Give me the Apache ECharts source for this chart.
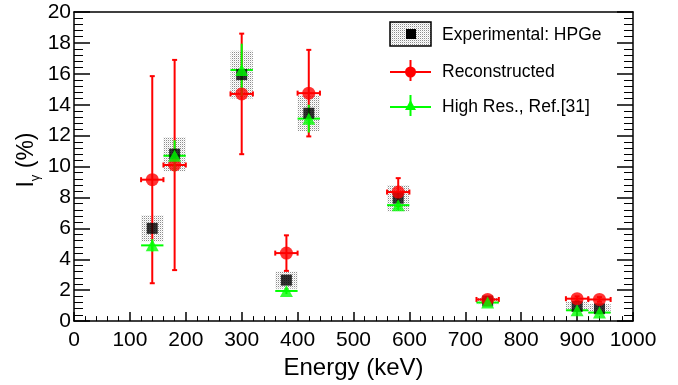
<!DOCTYPE html>
<html>
<head>
<meta charset="utf-8">
<script src="https://cdn.jsdelivr.net/npm/echarts@6/dist/echarts.min.js"></script>
<style>
  html, body { margin: 0; padding: 0; background: #fff; }
  #chart { width: 678px; height: 385px; }
</style>
</head>
<body>
<div id="chart"></div>
<script>
// gamma energies (keV) and their half-width
const energies = [140, 180, 300, 380, 420, 580, 740, 900, 940]
const energyErr = [20, 20, 20, 20, 20, 20, 20, 20, 20]

// Experimental: HPGe
const expValues = [6.0, 10.8, 15.95, 2.65, 13.45, 7.95, 1.3, 0.95, 0.8]
const expErrors = [0.85, 1.1, 1.55, 0.55, 1.15, 0.85, 0.2, 0.3, 0.3]

// Reconstructed
const recoValues = [9.15, 10.1, 14.7, 4.4, 14.75, 8.35, 1.4, 1.45, 1.4]
const recoErrors = [6.7, 6.8, 3.9, 1.15, 2.8, 0.9, 0.15, 0.15, 0.15]

// High Res., Ref.[31]
const hiresValues = [4.9, 10.7, 16.25, 1.95, 13.1, 7.5, 1.2, 0.7, 0.55]
const hiresErrors = [0.4, 1.0, 1.7, 0.2, 0.9, 0.3, 0.1, 0.1, 0.1]

const xTicks = [0, 100, 200, 300, 400, 500, 600, 700, 800, 900, 1000]
const yTicks = [0, 2, 4, 6, 8, 10, 12, 14, 16, 18, 20]

const FONT = "Liberation Sans"

// grey dotted fill like the ROOT hatch pattern
const patCanvas = document.createElement("canvas")
patCanvas.width = 2
patCanvas.height = 2
const pctx = patCanvas.getContext("2d")
pctx.fillStyle = "#ffffff"
pctx.fillRect(0, 0, 2, 2)
pctx.fillStyle = "#8c8c8c"
pctx.fillRect(0, 0, 1, 1)
pctx.fillStyle = "#e2e2e2"
pctx.fillRect(1, 1, 1, 1)
const dotFill = { image: patCanvas, repeat: "repeat" }

function rows(values, errors) {
  return energies.map((e, i) => [e, values[i], errors[i], energyErr[i]])
}

function renderBox(params, api) {
  const x = api.value(0), y = api.value(1), ey = api.value(2), ex = api.value(3)
  const p1 = api.coord([x - ex, y + ey])
  const p2 = api.coord([x + ex, y - ey])
  return {
    type: "rect",
    shape: { x: p1[0], y: p1[1], width: p2[0] - p1[0], height: p2[1] - p1[1] },
    style: { fill: dotFill },
  }
}

function errorBars(color, cap) {
  return function (params, api) {
    const x = api.value(0), y = api.value(1), ey = api.value(2), ex = api.value(3)
    const c = api.coord([x, y])
    const top = api.coord([x, y + ey])
    const bot = api.coord([x, y - ey])
    const left = api.coord([x - ex, y])
    const right = api.coord([x + ex, y])
    const st = { stroke: color, lineWidth: 2 }
    const kids = [
      { type: "line", shape: { x1: left[0], y1: c[1], x2: right[0], y2: c[1] }, style: st },
      { type: "line", shape: { x1: c[0], y1: top[1], x2: c[0], y2: bot[1] }, style: st },
    ]
    if (cap) {
      kids.push(
        { type: "line", shape: { x1: c[0] - cap, y1: top[1], x2: c[0] + cap, y2: top[1] }, style: st },
        { type: "line", shape: { x1: c[0] - cap, y1: bot[1], x2: c[0] + cap, y2: bot[1] }, style: st },
        { type: "line", shape: { x1: left[0], y1: c[1] - cap, x2: left[0], y2: c[1] + cap }, style: st },
        { type: "line", shape: { x1: right[0], y1: c[1] - cap, x2: right[0], y2: c[1] + cap }, style: st }
      )
    }
    return { type: "group", children: kids }
  }
}

const chart = echarts.init(document.getElementById("chart"))

const tickLine = { color: "#000", width: 1.5 }

chart.setOption({
  animation: false,
  backgroundColor: "#fff",
  grid: { left: 74, right: 45, top: 12, bottom: 63 },
  xAxis: [
    {
      type: "value",
      min: xTicks[0],
      max: xTicks[xTicks.length - 1],
      interval: 100,
      axisLine: { lineStyle: tickLine },
      axisTick: { inside: true, length: 9, lineStyle: tickLine },
      minorTick: { show: true, splitNumber: 5, length: 5, lineStyle: { color: "#000", width: 1 } },
      splitLine: { show: false },
      axisLabel: { fontFamily: FONT, fontSize: 21, color: "#000", margin: 9, formatter: (v) => String(v) },
      name: "Energy (keV)",
      nameLocation: "middle",
      nameGap: 32,
      nameTextStyle: { fontFamily: FONT, fontSize: 24, color: "#000" },
    },
    {
      type: "value",
      position: "top",
      min: 0,
      max: 1000,
      axisLine: { show: true, onZero: false, lineStyle: tickLine },
      axisTick: { show: false },
      axisLabel: { show: false },
      splitLine: { show: false },
    },
  ],
  yAxis: [
    {
      type: "value",
      min: yTicks[0],
      max: yTicks[yTicks.length - 1],
      interval: 2,
      axisLine: { show: true, lineStyle: tickLine },
      axisTick: { show: true, inside: true, length: 16, lineStyle: tickLine },
      minorTick: { show: true, splitNumber: 5, length: 9, lineStyle: { color: "#000", width: 1 } },
      splitLine: { show: false },
      axisLabel: { fontFamily: FONT, fontSize: 21, color: "#000", margin: 3 },
    },
    {
      type: "value",
      position: "right",
      min: 0,
      max: 20,
      interval: 2,
      axisLine: { show: true, onZero: false, lineStyle: tickLine },
      axisTick: { show: true, inside: true, length: 16, lineStyle: tickLine },
      minorTick: { show: true, splitNumber: 5, length: 9, lineStyle: { color: "#000", width: 1 } },
      axisLabel: { show: false },
      splitLine: { show: false },
    },
  ],
  series: [
    {
      name: "Experimental: HPGe box",
      type: "custom",
      renderItem: renderBox,
      data: rows(expValues, expErrors),
      silent: true,
    },
    {
      name: "Experimental: HPGe",
      type: "scatter",
      symbol: "rect",
      symbolSize: 11,
      itemStyle: { color: "#000" },
      data: energies.map((e, i) => [e, expValues[i]]),
    },
    {
      name: "Reconstructed bars",
      type: "custom",
      renderItem: errorBars("#ff0000", 2.5),
      data: rows(recoValues, recoErrors),
      silent: true,
    },
    {
      name: "Reconstructed",
      type: "scatter",
      symbol: "circle",
      symbolSize: 13,
      itemStyle: { color: "#ff0000" },
      data: energies.map((e, i) => [e, recoValues[i]]),
    },
    {
      name: "High Res. bars",
      type: "custom",
      renderItem: errorBars("#00ff00", 0),
      data: rows(hiresValues, hiresErrors),
      silent: true,
    },
    {
      name: "High Res., Ref.[31]",
      type: "scatter",
      symbol: "triangle",
      symbolSize: [13, 12],
      itemStyle: { color: "#00ff00" },
      data: energies.map((e, i) => [e, hiresValues[i]]),
    },
  ],
  graphic: [
    // y axis title, I with gamma subscript
    {
      type: "text",
      x: 27,
      y: 160,
      rotation: Math.PI / 2,
      style: {
        text: "{a|I}{b|γ}{a| (%)}",
        align: "center",
        verticalAlign: "middle",
        rich: {
          a: { fontFamily: FONT, fontSize: 23, fill: "#000", lineHeight: 30 },
          b: { fontFamily: FONT, fontSize: 13, fill: "#000", lineHeight: 13, verticalAlign: "bottom" },
        },
      },
    },
    // legend entry 1
    { type: "rect", shape: { x: 390, y: 22, width: 41, height: 24 }, style: { fill: dotFill, stroke: "#000", lineWidth: 1.5 }, z: 10 },
    { type: "rect", shape: { x: 406, y: 29, width: 10, height: 10 }, style: { fill: "#000" }, z: 11 },
    { type: "text", x: 442, y: 35, style: { text: "Experimental: HPGe", font: "17.5px " + FONT, fill: "#000", verticalAlign: "middle" }, z: 10 },
    // legend entry 2
    { type: "line", shape: { x1: 390, y1: 72, x2: 431, y2: 72 }, style: { stroke: "#ff0000", lineWidth: 2 }, z: 10 },
    { type: "line", shape: { x1: 410.5, y1: 60, x2: 410.5, y2: 81 }, style: { stroke: "#ff0000", lineWidth: 2 }, z: 10 },
    { type: "circle", shape: { cx: 410.5, cy: 72, r: 5.5 }, style: { fill: "#ff0000" }, z: 11 },
    { type: "text", x: 442, y: 72, style: { text: "Reconstructed", font: "17.5px " + FONT, fill: "#000", verticalAlign: "middle" }, z: 10 },
    // legend entry 3
    { type: "line", shape: { x1: 390, y1: 107, x2: 431, y2: 107 }, style: { stroke: "#00ff00", lineWidth: 2 }, z: 10 },
    { type: "line", shape: { x1: 410.5, y1: 95, x2: 410.5, y2: 116 }, style: { stroke: "#00ff00", lineWidth: 2 }, z: 10 },
    { type: "polygon", shape: { points: [[410.5, 100], [416, 110], [405, 110]] }, style: { fill: "#00ff00" }, z: 11 },
    { type: "text", x: 442, y: 107, style: { text: "High Res., Ref.[31]", font: "17.5px " + FONT, fill: "#000", verticalAlign: "middle" }, z: 10 },
  ],
})
</script>
</body>
</html>
